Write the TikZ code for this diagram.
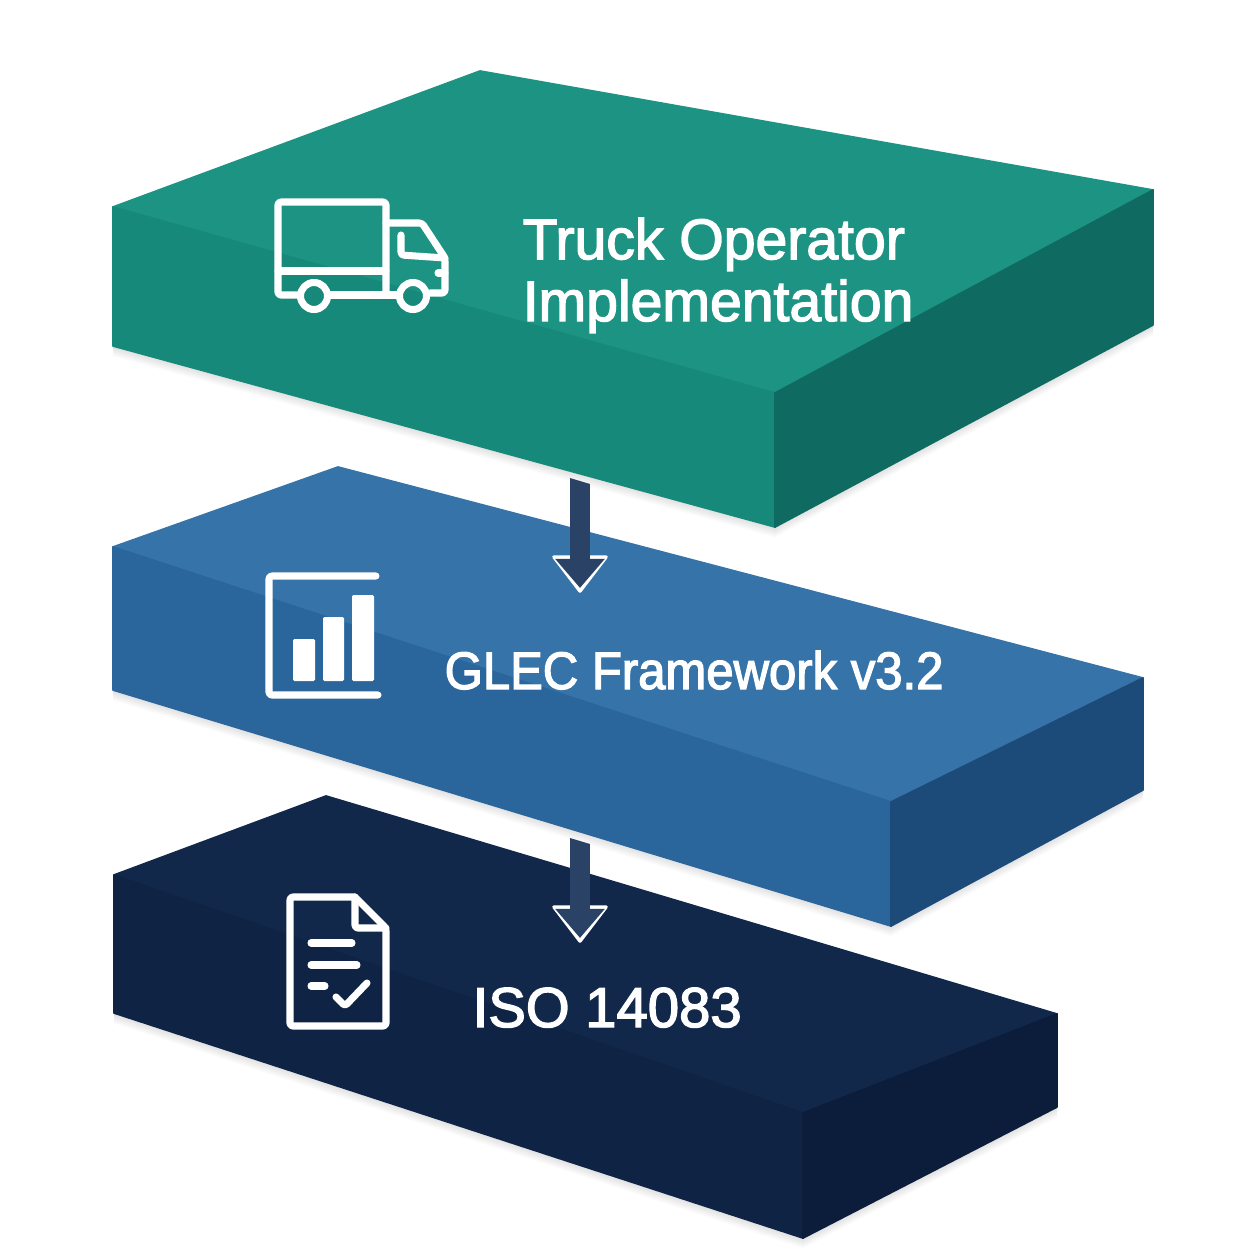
\documentclass[tikz,border=0pt]{standalone}
\usepackage{fontspec}
\setmainfont{Liberation Sans}[FakeBold=2.4]
\newfontfamily\narrowfont{Liberation Sans}[FakeBold=2.4, FakeStretch=0.93]
\usetikzlibrary{arrows.meta}
\definecolor{tealtop}{HTML}{1D9383}
\definecolor{tealfront}{HTML}{17897B}
\definecolor{tealside}{HTML}{0F6B62}
\definecolor{bluetop}{HTML}{3573A8}
\definecolor{bluefront}{HTML}{2A669C}
\definecolor{blueside}{HTML}{1D4B79}
\definecolor{navytop}{HTML}{12284B}
\definecolor{navyfront}{HTML}{0F2445}
\definecolor{navyside}{HTML}{0C1D3B}
\definecolor{arrowdark}{HTML}{2A4266}
\tikzset{
    face/.style={fill=#1, draw=#1, line width=0.5pt, line join=round},
    softshadow/.style={fill=black, opacity=0.025},
    iconline/.style={draw=white, line width=2pt, line cap=round, line join=round, rounded corners=0.8pt},
    iconbar/.style={fill=white, rounded corners=0.4pt},
    layerlabel/.style={text=white, inner sep=0pt, anchor=base west, align=left, font=\fontsize{16.25}{17.6}\selectfont},
    flowarrow/.style={draw=arrowdark, line width=5.7pt, -{Triangle[width=13.6pt, length=8.3pt]}},
    flowhalo/.style={fill=white, draw=white, line width=1pt, line join=round}
}
\begin{document}
\begin{tikzpicture}[x=0.01cm, y=-0.01cm]
    \useasboundingbox (0,0) rectangle (1254,1254);

    % --- shadows ---
    \foreach \d in {2,4,6,8,10} {
        \fill[softshadow] (114,1013) -- (803,1238) -- (1057,1107) -- ++(0,\d) -- (803,1238+\d) -- (114,1013+\d) -- cycle;
        \fill[softshadow] (113,690) -- (891,926) -- (1143,790) -- ++(0,\d) -- (891,926+\d) -- (113,690+\d) -- cycle;
        \fill[softshadow] (113,346) -- (775,527) -- (1153,325) -- ++(0,\d) -- (775,527+\d) -- (113,346+\d) -- cycle;
    }

    % --- bottom layer ---
    \path[face=navytop] (326,796) -- (1057,1014) -- (803,1113) -- (114,875) -- cycle;
    \path[face=navyfront] (114,875) -- (803,1113) -- (803,1238) -- (114,1013) -- cycle;
    \path[face=navyside] (1057,1014) -- (1057,1107) -- (803,1238) -- (803,1113) -- cycle;

    % --- middle layer ---
    \path[face=bluetop] (338,467) -- (1143,678) -- (891,802) -- (113,547) -- cycle;
    \path[face=bluefront] (113,547) -- (891,802) -- (891,926) -- (113,690) -- cycle;
    \path[face=blueside] (1143,678) -- (1143,790) -- (891,926) -- (891,802) -- cycle;

    % --- top layer ---
    \path[face=tealtop] (480,71) -- (1153,190) -- (775,393) -- (113,207) -- cycle;
    \path[face=tealfront] (113,207) -- (775,393) -- (775,527) -- (113,346) -- cycle;
    \path[face=tealside] (1153,190) -- (1153,325) -- (775,527) -- (775,393) -- cycle;

    % --- arrows ---
    \coordinate (truckout) at (580,484);
    \coordinate (glecin) at (580,588);
    \coordinate (glecout) at (580,844);
    \coordinate (isoin) at (580,938);
    \foreach \from/\to in {truckout/glecin, glecout/isoin} {
        \filldraw[flowhalo] (\to) ++(-26,-31) -- ++(52,0) -- ++(-26,34) -- cycle;
        \fill[arrowdark] (\from) ++(-10,0) -- ++(0,-6) -- ++(20,6) -- cycle;
        \draw[flowarrow] (\from) -- (\to);
    }

    % --- truck ---
    \draw[iconline] (298,295) -- (278,295) -- (278,202) -- (386,202) -- (386,295);
    \draw[iconline] (278,271) -- (386,271);
    \draw[iconline] (328,295) -- (398,295);
    \draw[iconline] (386,223) -- (422,223) -- (445,258) -- (445,293) -- (430,293);
    \draw[iconline] (401,235) -- (401,255) -- (445,258);
    \draw[iconline] (438,273) -- (445,273);
    \draw[iconline] (314,296) circle (13.5);
    \draw[iconline] (413,296) circle (13.5);

    % --- chart ---
    \draw[iconline] (376,576) -- (269,576) -- (269,695) -- (378,695);
    \foreach \xa/\xb/\ytop in {293/315/639, 323/344/617, 352/374/595} {
        \fill[iconbar] (\xa,\ytop) rectangle (\xb,681);
    }

    % --- document ---
    \draw[iconline] (355,897) -- (290,897) -- (290,1026) -- (386,1026) -- (386,928) -- (355,897);
    \draw[iconline] (355,897) -- (355,928) -- (386,928);
    \draw[iconline] (311,943) -- (352,943);
    \draw[iconline] (311,965) -- (357,965);
    \draw[iconline] (311,986) -- (325,986);
    \draw[iconline] (336,997) -- (345,1006) -- (367,983);

    % --- labels ---
    \node[layerlabel] (truck) at (522,321) {Truck Operator\\Implementation};
    \node[layerlabel, font=\narrowfont\fontsize{15}{17}\selectfont] (glec) at (444,689) {GLEC Framework v3.2};
    \node[layerlabel, font=\fontsize{16}{17}\selectfont] (iso) at (472,1027) {ISO 14083};
\end{tikzpicture}
\end{document}
